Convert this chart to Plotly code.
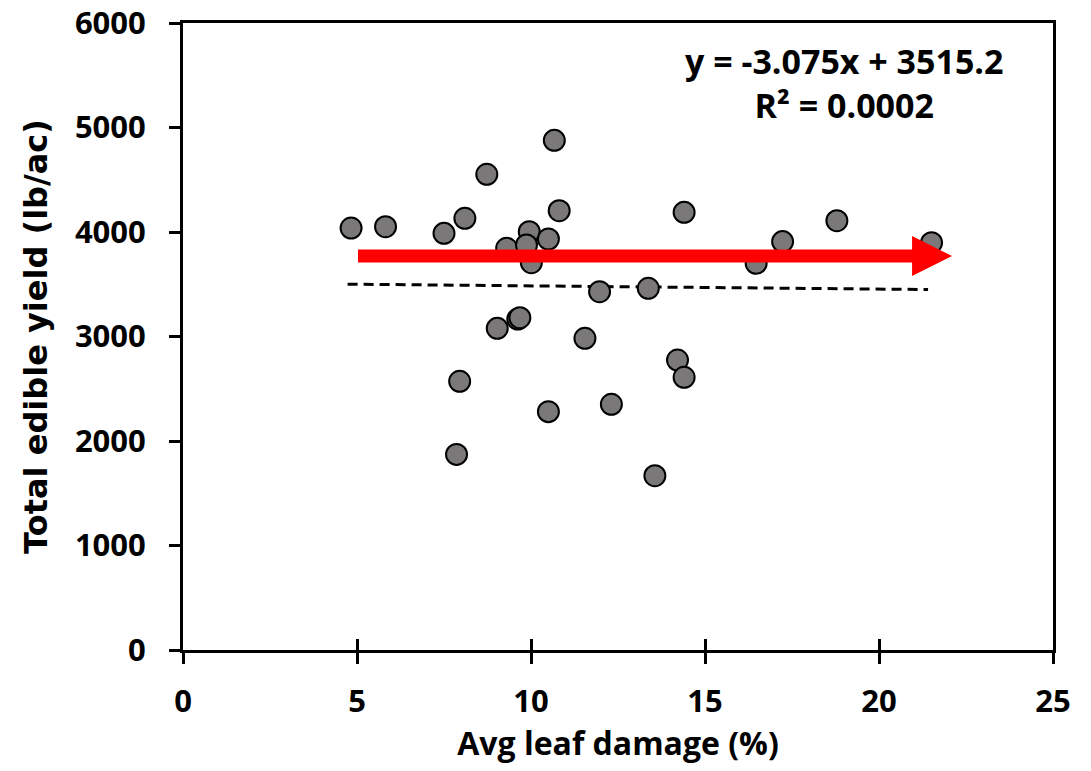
import plotly.graph_objects as go

# Data
leaf_damage = [4.83, 5.82, 7.50, 8.10, 8.73, 10.67, 10.81, 9.95, 10.50, 9.30,
               9.87, 10.01, 11.97, 9.62, 9.68, 9.03, 11.55, 14.21, 14.40, 7.95,
               10.50, 12.31, 7.86, 13.56, 14.40, 18.79, 17.23, 16.47, 21.51, 13.37]
yield_lb = [4038, 4051, 3987, 4131, 4552, 4877, 4204, 4003, 3933, 3844,
            3876, 3706, 3429, 3167, 3180, 3078, 2983, 2775, 2610, 2571,
            2281, 2351, 1872, 1668, 4188, 4108, 3908, 3700, 3898, 3461]

slope = -3.075
intercept = 3515.2
r_squared = 0.0002
trend_x = [min(leaf_damage) - 0.1, max(leaf_damage) - 0.1]
trend_y = [slope * v + intercept for v in trend_x]

x_ticks = [0, 5, 10, 15, 20, 25]
y_ticks = [0, 1000, 2000, 3000, 4000, 5000, 6000]

# Arrow annotation geometry (data units)
arrow_x0, arrow_xhead, arrow_tip = 5.03, 20.95, 22.1
arrow_y, shaft_half, head_half = 3770, 62, 191

fig = go.Figure()
fig.add_trace(go.Scatter(
    x=trend_x, y=trend_y, mode="lines",
    line=dict(color="black", width=3, dash="10px,6px"),
    showlegend=False, hoverinfo="skip"))
fig.add_trace(go.Scatter(
    x=leaf_damage, y=yield_lb, mode="markers",
    marker=dict(size=21, color="#7a7878", line=dict(color="black", width=2)),
    showlegend=False))

path = (f"M {arrow_x0},{arrow_y - shaft_half} L {arrow_xhead},{arrow_y - shaft_half} "
        f"L {arrow_xhead},{arrow_y - head_half} L {arrow_tip},{arrow_y} "
        f"L {arrow_xhead},{arrow_y + head_half} L {arrow_xhead},{arrow_y + shaft_half} "
        f"L {arrow_x0},{arrow_y + shaft_half} Z")
fig.add_shape(type="path", path=path, xref="x", yref="y",
              fillcolor="#ff0000", line=dict(width=0), layer="above")

fig.add_annotation(
    x=0.760, y=0.905, xref="paper", yref="paper", showarrow=False,
    text=f"y = {slope}x + {intercept}<br>R² = {r_squared:.4f}",
    font=dict(family="Open Sans", size=34, color="black", weight="bold"),
    align="center", xanchor="center", yanchor="middle")

tick_font = dict(family="Open Sans", size=31, color="black", weight="bold")

fig.update_layout(
    width=1091, height=771,
    margin=dict(l=183, r=38, t=23, b=121),
    paper_bgcolor="white", plot_bgcolor="white",
    xaxis=dict(
        range=[0, 25], tickvals=x_ticks, showgrid=False, zeroline=False,
        showline=True, linecolor="black", linewidth=3, mirror=True,
        ticks="outside", ticklen=11, tickwidth=2.5, tickcolor="black",
        tickfont=tick_font, ticklabelstandoff=11, automargin=False,
        ticklabeloverflow="allow",
        title=dict(text="Avg leaf damage (%)",
                   font=dict(family="Open Sans", size=32, color="black", weight="bold"),
                   standoff=0),
    ),
    xaxis2=dict(
        range=[0, 25], tickvals=x_ticks, overlaying="x", side="bottom",
        showgrid=False, zeroline=False, showline=False, showticklabels=False,
        ticks="inside", ticklen=11, tickwidth=2.5, tickcolor="black",
    ),
    yaxis=dict(
        range=[0, 6000], tickvals=y_ticks, showgrid=False, zeroline=False,
        showline=True, linecolor="black", linewidth=3, mirror=True,
        ticks="outside", ticklen=11, tickwidth=2.5, tickcolor="black",
        tickfont=tick_font, ticklabelstandoff=17, automargin=False,
        ticklabeloverflow="allow",
        title=dict(text="Total edible yield (lb/ac)",
                   font=dict(family="DejaVu Sans", size=32, color="black", weight="bold"),
                   standoff=18),
    ),
)
# invisible trace to activate xaxis2
fig.add_trace(go.Scatter(x=[0], y=[0], xaxis="x2", mode="markers",
                         marker=dict(opacity=0), showlegend=False, hoverinfo="skip"))

fig.write_html("out.html",
               config={"displayModeBar": False},
               post_script="document.body.style.margin='0';document.body.style.overflow='hidden';")
